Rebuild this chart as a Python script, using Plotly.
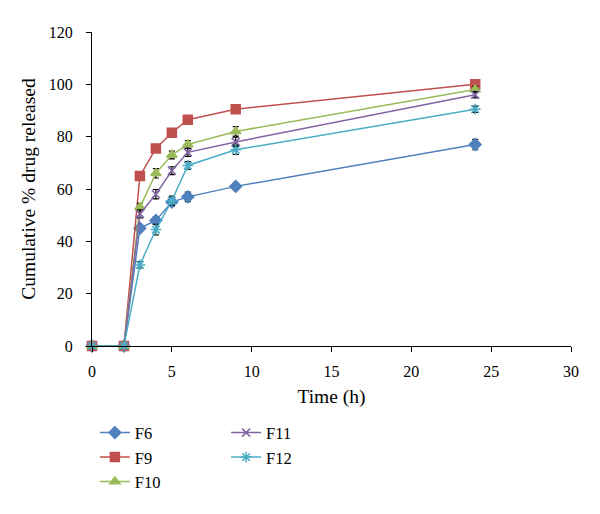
import plotly.graph_objects as go

time_h = [0, 2, 3, 4, 5, 6, 9, 24]
F6 = [0, 0, 45, 48, 55, 57, 61, 77]
F9 = [0, 0, 65, 75.5, 81.5, 86.5, 90.5, 100]
F10 = [0, 0, 53, 66, 73, 77, 82, 98]
F11 = [0, 0, 50.5, 58, 67, 74, 78, 96]
F12 = [0, 0, 31, 44.5, 55.5, 69, 75, 90.5]
err_F6 = [0, 0, 1.2, 1.5, 1.5, 1.8, 1.2, 2.0]
err_F9 = [0, 0, 1.5, 1.2, 1.2, 1.5, 1.2, 1.0]
err_F10 = [0, 0, 1.5, 1.8, 1.5, 1.5, 1.8, 1.2]
err_F11 = [0, 0, 1.5, 1.8, 1.5, 1.5, 1.8, 1.2]
err_F12 = [0, 0, 1.2, 2.0, 1.8, 1.5, 1.8, 1.2]

series = [
    ("F6", F6, err_F6, "#4F81BD", "diamond", 9, "legend"),
    ("F9", F9, err_F9, "#C0504D", "square", 9, "legend"),
    ("F10", F10, err_F10, "#9BBB59", "triangle-up", 9, "legend"),
    ("F11", F11, err_F11, "#8064A2", "x-thin", 8, "legend2"),
    ("F12", F12, err_F12, "#4BACC6", "asterisk", 9, "legend2"),
]

fig = go.Figure()
for name, y, e, c, sym, sz, lg in series:
    fig.add_trace(go.Scatter(
        x=time_h, y=y, name=name, mode="lines+markers",
        line=dict(color=c, width=1.5),
        marker=dict(color=c, symbol=sym, size=sz, line=dict(color=c, width=1.5)),
        error_y=dict(type="data", array=e, visible=True, color="black", thickness=1.2, width=3),
        legend=lg, cliponaxis=False,
    ))

SERIF = "Liberation Serif"
tickfont = dict(family=SERIF, size=16, color="black")
titlefont = dict(family=SERIF, size=19.5, color="black")
legfont = dict(family=SERIF, size=16.5, color="black")
fig.update_layout(
    width=600, height=514,
    margin=dict(l=84, r=37, t=24, b=176),
    plot_bgcolor="white", paper_bgcolor="white",
    font=dict(family=SERIF, size=16, color="black"),
    xaxis=dict(range=[0, 30], tickvals=[0, 5, 10, 15, 20, 25, 30], showline=True,
               linecolor="black", linewidth=1, ticks="outside", ticklen=5,
               tickcolor="black", showgrid=False, zeroline=False, tickfont=tickfont,
               ticklabelstandoff=6,
               title=dict(text="Time (h)", standoff=10, font=titlefont)),
    yaxis=dict(range=[0, 120], tickvals=[0, 20, 40, 60, 80, 100, 120], showline=True,
               linecolor="black", linewidth=1, ticks="outside", ticklen=5,
               tickcolor="black", showgrid=False, zeroline=False, tickfont=tickfont,
               ticklabelstandoff=10,
               title=dict(text="Cumulative % drug released", standoff=7, font=titlefont)),
    legend=dict(x=0.006, y=-0.221, xanchor="left", yanchor="top", orientation="v",
                font=legfont, tracegroupgap=0, itemwidth=30),
    legend2=dict(x=0.28, y=-0.221, xanchor="left", yanchor="top", orientation="v",
                 font=legfont, tracegroupgap=0, itemwidth=30),
)
fig.write_html("out.html")
